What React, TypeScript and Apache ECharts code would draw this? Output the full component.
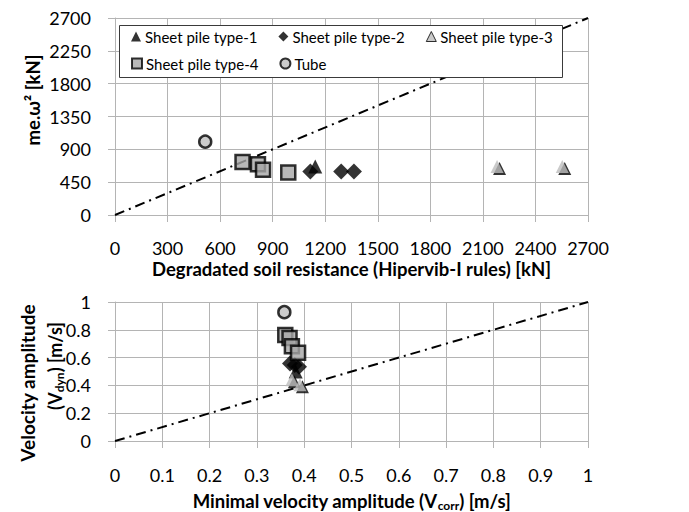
import React, { useEffect, useRef } from "react";
import * as echarts from "echarts";

// Top chart: degraded soil resistance [kN] vs me.ω² [kN]
const type1Top: number[][] = [[1143, 665]];
const type2Top: number[][] = [[1115, 596], [1291, 596], [1364, 596]];
const type3Top: number[][] = [[2181, 665], [2553, 665]];
const type4Top: number[][] = [[728, 725], [816, 697], [845, 619], [989, 583]];
const tubeTop: number[][] = [[515, 1005]];

// Bottom chart: minimal velocity amplitude vs velocity amplitude [m/s]
const type1Bot: number[][] = [[0.382, 0.5]];
const type2Bot: number[][] = [[0.37, 0.558], [0.38, 0.546], [0.389, 0.534]];
const type3Bot: number[][] = [[0.374, 0.44], [0.391, 0.405]];
const type4Bot: number[][] = [[0.36, 0.762], [0.369, 0.741], [0.374, 0.682], [0.387, 0.635]];
const tubeBot: number[][] = [[0.358, 0.927]];

const refTop: number[][] = [[0, 0], [2700, 2700]];
const refBot: number[][] = [[0, 0], [1, 1]];

const seriesNames = ["Sheet pile type-1", "Sheet pile type-2", "Sheet pile type-3", "Sheet pile type-4", "Tube"];

const FONT = "Lato, 'Open Sans', sans-serif";

export default function App() {
  const ref = useRef<HTMLDivElement>(null);
  useEffect(() => {
    if (!ref.current) return;
    const chart = echarts.init(ref.current, null, { renderer: "svg" });
    const gridLine = { show: true, lineStyle: { color: "#b4b4b4", width: 1 } };
    const axisLine = { show: true, lineStyle: { color: "#b4b4b4", width: 1 } };
    const axisTick = { show: true, length: 7, lineStyle: { color: "#b4b4b4" } };
    const labelStyle = { color: "#000", fontFamily: FONT, fontSize: 18 };
    const nameStyle = { color: "#000", fontFamily: FONT, fontSize: 18.5, fontWeight: "bold" as const };

    const styles: any[] = [
      { symbol: "triangle", symbolSize: 14, itemStyle: { color: "#000" } },
      { symbol: "diamond", symbolSize: 16, itemStyle: { color: "#000" } },
      { symbol: "triangle", symbolSize: 13, itemStyle: { color: "#bdbdbd" } },
      { symbol: "rect", symbolSize: 14, itemStyle: { color: "#a6a6a6", borderColor: "#000", borderWidth: 2.5 } },
      { symbol: "circle", symbolSize: 12, itemStyle: { color: "#bfbfbf", borderColor: "#000", borderWidth: 2.5 } },
    ];
    const topData = [type1Top, type2Top, type3Top, type4Top, tubeTop];
    const botData = [type1Bot, type2Bot, type3Bot, type4Bot, tubeBot];

    const refLine = (data: number[][], idx: number) => ({
      type: "line",
      name: "ref",
      xAxisIndex: idx,
      yAxisIndex: idx,
      data,
      symbol: "none",
      silent: true,
      lineStyle: { color: "#000", width: 2, type: [10, 5, 2, 5] },
      z: 1,
    });

    const shadow3 = (data: number[][], idx: number) => ({
      type: "scatter",
      name: "type3-shadow",
      xAxisIndex: idx,
      yAxisIndex: idx,
      data,
      symbol: "triangle",
      symbolSize: 13,
      symbolOffset: [2.5, 2],
      itemStyle: { color: "#000" },
      silent: true,
      z: 2,
    });

    const scatter: any[] = [];
    seriesNames.forEach((name, i) => {
      scatter.push({ type: "scatter", name, xAxisIndex: 0, yAxisIndex: 0, data: topData[i], ...styles[i], z: 3 });
    });
    seriesNames.forEach((name, i) => {
      scatter.push({ type: "scatter", name, xAxisIndex: 1, yAxisIndex: 1, data: botData[i], ...styles[i], z: 3 });
    });

    const legendCommon = {
      left: 131,
      itemGap: 21,
      itemWidth: 10,
      itemHeight: 10,
      padding: 0,
      textStyle: { color: "#000", fontFamily: FONT, fontSize: 15, padding: [0, 0, 0, -1] },
      z: 12,
    };

    const noSep = (v: number) => String(v);

    chart.setOption({
      animation: false,
      backgroundColor: "#fff",
      grid: [
        { left: 115, top: 18, width: 473, height: 197 },
        { left: 115, top: 302, width: 473, height: 142 },
      ],
      legend: [
        {
          ...legendCommon,
          top: 29,
          data: [
            seriesNames[0],
            seriesNames[1],
            { name: seriesNames[2], itemStyle: { borderColor: "#000", borderWidth: 1 } },
          ],
        },
        {
          ...legendCommon,
          top: 56,
          data: [seriesNames[3], seriesNames[4]],
        },
      ],
      xAxis: [
        {
          type: "value",
          gridIndex: 0,
          min: 0,
          max: 2700,
          interval: 300,
          axisLine,
          axisTick,
          splitLine: gridLine,
          axisLabel: { ...labelStyle, margin: 24, formatter: noSep },
          name: "Degradated soil resistance (Hipervib-I rules) [kN]",
          nameLocation: "middle",
          nameGap: 44,
          nameTextStyle: nameStyle,
        },
        {
          type: "value",
          gridIndex: 1,
          min: 0,
          max: 1,
          interval: 0.1,
          axisLine,
          axisTick,
          splitLine: gridLine,
          axisLabel: { ...labelStyle, margin: 25 },
          name: "Minimal velocity amplitude (V{sub|corr}) [m/s]",
          nameLocation: "middle",
          nameGap: 49,
          nameTextStyle: {
            ...nameStyle,
            rich: {
              sub: { fontFamily: FONT, fontSize: 12, fontWeight: "bold", color: "#000", padding: [9, 0, 0, 0] },
            },
          },
        },
      ],
      yAxis: [
        {
          type: "value",
          gridIndex: 0,
          min: 0,
          max: 2700,
          interval: 450,
          axisLine,
          axisTick,
          splitLine: gridLine,
          axisLabel: { ...labelStyle, margin: 24, formatter: noSep },
        },
        {
          type: "value",
          gridIndex: 1,
          min: 0,
          max: 1,
          interval: 0.2,
          axisLine,
          axisTick,
          splitLine: gridLine,
          axisLabel: { ...labelStyle, margin: 24 },
        },
      ],
      graphic: [
        {
          type: "rect",
          z: 10,
          shape: { x: 119.5, y: 25.5, width: 443, height: 52 },
          style: { fill: "#fff", stroke: "#3a3a3a", lineWidth: 1 },
        },
        {
          type: "text",
          x: 33,
          y: 100,
          rotation: Math.PI / 2,
          style: {
            text: "me.ω² [kN]",
            fontFamily: FONT,
            fontSize: 18.5,
            fontWeight: "bold",
            fill: "#000",
            align: "center",
            verticalAlign: "middle",
          },
        },
        {
          type: "text",
          x: 27,
          y: 383,
          rotation: Math.PI / 2,
          style: {
            text: "Velocity amplitude",
            fontFamily: FONT,
            fontSize: 19,
            fontWeight: "bold",
            fill: "#000",
            align: "center",
            verticalAlign: "middle",
          },
        },
        {
          type: "text",
          x: 55,
          y: 366,
          rotation: Math.PI / 2,
          style: {
            text: "(V{sub|dyn}) [m/s]",
            fontFamily: FONT,
            fontSize: 18,
            fontWeight: "bold",
            fill: "#000",
            align: "center",
            verticalAlign: "middle",
            rich: {
              sub: { fontFamily: FONT, fontSize: 12, fontWeight: "bold", fill: "#000", padding: [9, 0, 0, 0] },
            },
          },
        },
      ],
      series: [
        refLine(refTop, 0),
        refLine(refBot, 1),
        shadow3(type3Top, 0),
        shadow3(type3Bot, 1),
        ...scatter,
      ],
    });
    return () => chart.dispose();
  }, []);
  return (
    <div
      ref={ref}
      style={{ position: "fixed", left: 0, top: 0, width: 689, height: 512, background: "#fff" }}
    />
  );
}
